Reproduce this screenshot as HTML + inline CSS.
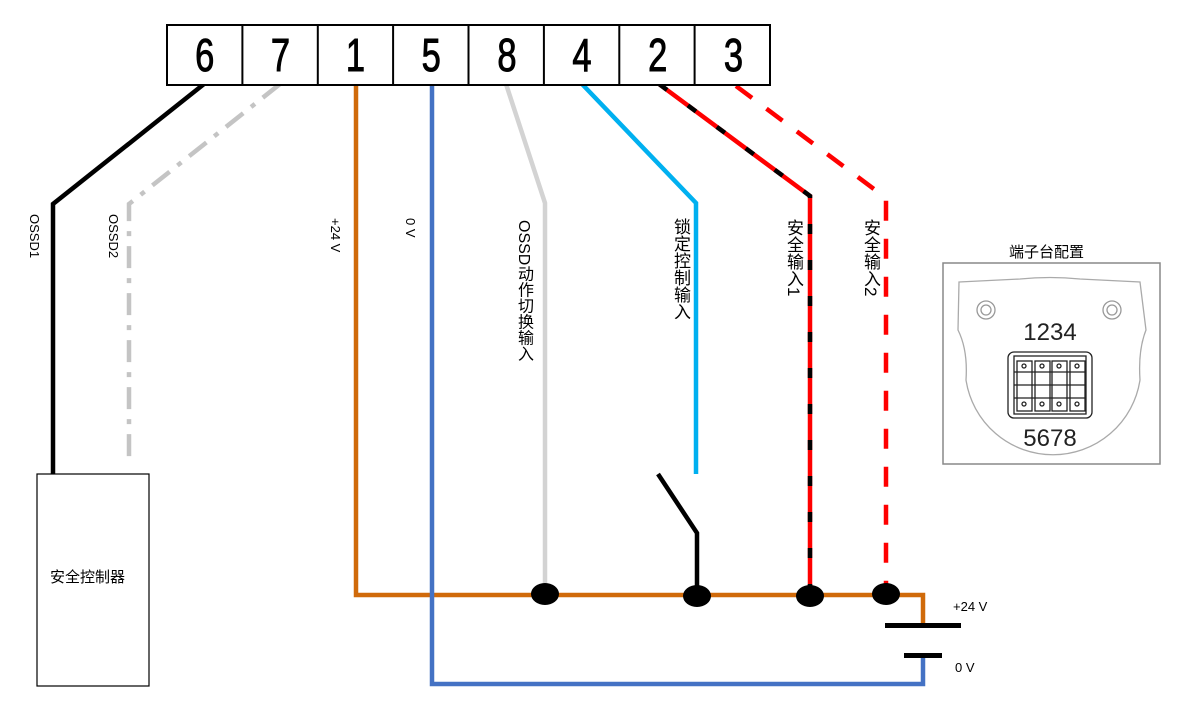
<!DOCTYPE html>
<html><head><meta charset="utf-8"><style>
html,body{margin:0;padding:0;background:#fff;width:1184px;height:710px;overflow:hidden;position:relative}
.lab{position:absolute;writing-mode:vertical-rl;font-family:"Liberation Sans","Noto Sans CJK SC",sans-serif;font-size:17px;color:#000;line-height:1;white-space:nowrap}
.t{position:absolute;font-family:"Liberation Sans","Noto Sans CJK SC",sans-serif;color:#000;white-space:nowrap}
</style></head><body>
<svg width="1184" height="710" style="position:absolute;left:0;top:0" xmlns="http://www.w3.org/2000/svg">
<g fill="none" stroke-width="4.5" stroke-linejoin="miter">
<polyline points="204,84 53,204 53,474" stroke="#000"/>
<polyline points="280,84 129,204 129,464" stroke="#c4c4c4" stroke-dasharray="22,10,5,10"/>
<polyline points="356,84 356,595 923,595 923,625" stroke="#d06a0a"/>
<polyline points="432,84 432,684 923,684 923,655" stroke="#4472c4"/>
<polyline points="506,84 545,203 545,594" stroke="#d3d3d3"/>
<polyline points="582,84 696,203 696,474" stroke="#00b0f0"/>
<polyline points="658,474 697,533 697,596" stroke="#000"/>
<polyline points="659,84 810,196 810,596" stroke="#ff0000"/>
<polyline points="659,84 810,196 810,596" stroke="#000" stroke-dasharray="10,26" stroke-width="4.5"/>
<polyline points="736,86 886,198 886,594" stroke="#ff0000" stroke-dasharray="20,18"/>
</g>
<g fill="#000">
<ellipse cx="545" cy="594" rx="14" ry="11"/>
<ellipse cx="697" cy="596" rx="14" ry="11"/>
<ellipse cx="810" cy="596" rx="14" ry="11"/>
<ellipse cx="886" cy="594" rx="14" ry="11"/>
<rect x="885" y="623" width="76" height="5"/>
<rect x="904" y="653" width="38" height="5"/>
</g>
<g fill="#fff" stroke="#000" stroke-width="2">
<rect x="167" y="25" width="603" height="60"/>
<line x1="242.4" y1="25" x2="242.4" y2="85"/><line x1="317.8" y1="25" x2="317.8" y2="85"/><line x1="393.1" y1="25" x2="393.1" y2="85"/><line x1="468.5" y1="25" x2="468.5" y2="85"/><line x1="543.9" y1="25" x2="543.9" y2="85"/><line x1="619.3" y1="25" x2="619.3" y2="85"/><line x1="694.6" y1="25" x2="694.6" y2="85"/>
</g>
<g font-family="'Liberation Sans',sans-serif" font-size="46" text-anchor="middle" fill="#000" stroke="#000" stroke-width="1" transform="scale(0.75,1)">
<text x="273" y="71">6</text><text x="374" y="71">7</text><text x="474" y="71">1</text><text x="575" y="71">5</text><text x="676" y="71">8</text><text x="776" y="71">4</text><text x="877" y="71">2</text><text x="978" y="71">3</text>
</g>
<rect x="37" y="474" width="112" height="212" fill="#fff" stroke="#000" stroke-width="1.2"/>
<rect x="943" y="263" width="217" height="201" fill="#fff" stroke="#888" stroke-width="1.5"/>
<path d="M959,282 L1020,279 Q1050,276 1080,279 L1140,282 L1146,330 Q1138,350 1140,380 A88,88 0 0 1 966,380 Q968,350 958,330 Z" fill="#fff" stroke="#aaa" stroke-width="1.3"/>
<g fill="none" stroke="#999" stroke-width="1.3">
<circle cx="986" cy="310" r="9"/><circle cx="986" cy="310" r="5"/>
<circle cx="1112" cy="310" r="9"/><circle cx="1112" cy="310" r="5"/>
</g>
<g stroke="#222" fill="#fff" stroke-width="1.3">
<rect x="1008" y="352" width="84" height="66" rx="6"/>
<rect x="1014" y="356" width="72" height="58"/>
<g fill="none">
<rect x="1017" y="361" width="15" height="50"/><rect x="1035" y="361" width="15" height="50"/><rect x="1052" y="361" width="15" height="50"/><rect x="1070" y="361" width="15" height="50"/>
<line x1="1014" y1="372" x2="1086" y2="372"/><line x1="1014" y1="385" x2="1086" y2="385"/><line x1="1014" y1="398" x2="1086" y2="398"/>
<circle cx="1024" cy="366" r="2"/><circle cx="1042" cy="366" r="2"/><circle cx="1059" cy="366" r="2"/><circle cx="1077" cy="366" r="2"/>
<circle cx="1024" cy="404" r="2"/><circle cx="1042" cy="404" r="2"/><circle cx="1059" cy="404" r="2"/><circle cx="1077" cy="404" r="2"/>
</g></g>
<g font-family="'Liberation Sans',sans-serif" font-size="24" fill="#222" text-anchor="middle">
<text x="1050" y="340">1234</text><text x="1050" y="446">5678</text>
</g>
</svg>
<div class="lab" style="left:28px;top:214px;font-size:13px">OSSD1</div>
<div class="lab" style="left:107px;top:214px;font-size:13px">OSSD2</div>
<div class="lab" style="left:329px;top:218px;font-size:13px">+24 V</div>
<div class="lab" style="left:404px;top:218px;font-size:13px">0 V</div>
<div class="lab" style="left:515px;top:220px;font-size:16px">OSSD动作切换输入</div>
<div class="lab" style="left:672px;top:218px">锁定控制输入</div>
<div class="lab" style="left:785px;top:219px">安全输入1</div>
<div class="lab" style="left:862px;top:219px">安全输入2</div>
<div class="t" style="left:50px;top:566px;font-size:15px">安全控制器</div>
<div class="t" style="left:1009px;top:241px;font-size:15px">端子台配置</div>
<div class="t" style="left:953px;top:599px;font-size:13px">+24 V</div>
<div class="t" style="left:955px;top:660px;font-size:13px">0 V</div>
</body></html>
